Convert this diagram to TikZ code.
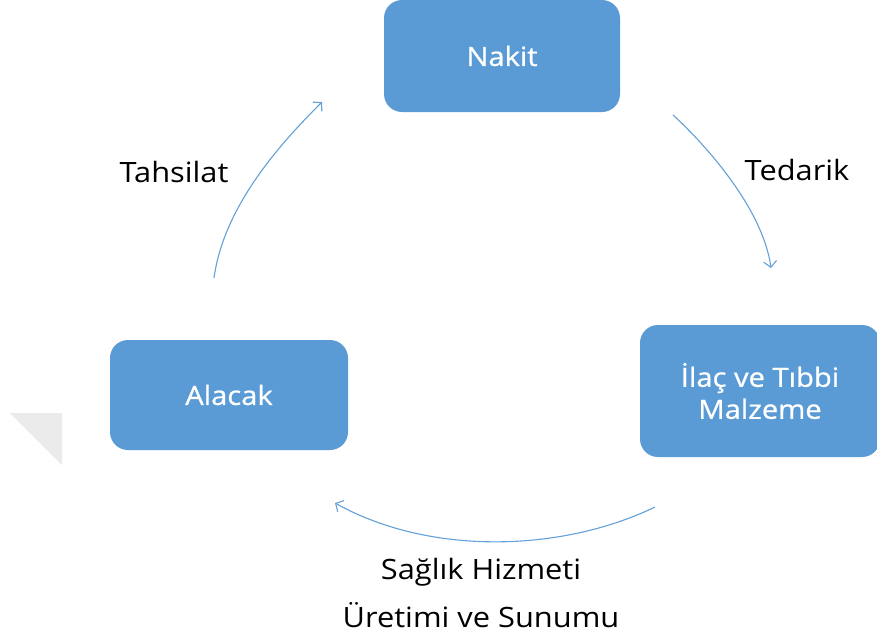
\documentclass[tikz,border=0pt]{standalone}
\usepackage{fontspec}
\setmainfont{Open Sans}
\newfontfamily\widefont[FakeStretch=1.1]{Open Sans}
\newfontfamily\boxfont[FakeStretch=1.1,FakeBold=0.8]{Open Sans}
\usetikzlibrary{arrows.meta}
\definecolor{boxblue}{HTML}{5B9BD5}
\definecolor{arrowblue}{HTML}{64A1D8}
\definecolor{shadowgray}{HTML}{EBEBEB}
\tikzset{
  cyclebox/.style={fill=boxblue, draw=none, rounded corners=18pt, text=white,
    font=\boxfont\fontsize{26.5}{32}\selectfont, align=center, inner sep=0pt},
  cyclearrow/.style={draw=arrowblue, line width=1.1pt,
    -{Straight Barb[length=6pt,width=13pt,line width=1.1pt]}},
  cyclelabel/.style={font=\widefont\fontsize{28}{34}\selectfont, text=black, align=center}
}
\begin{document}
\begin{tikzpicture}[x=1pt,y=-1pt]
\useasboundingbox (0,0) rectangle (877,638);
\fill[white] (0,0) rectangle (877,638);
% gray triangle
\fill[shadowgray] (10,413) -- (62,413) -- (62,465) -- cycle;
% boxes
\node[cyclebox, minimum width=236pt, minimum height=112pt] (nakit) at (502,56) {Nakit};
\node[cyclebox, minimum width=240pt, minimum height=132pt] (ilac) at (760,391) {İlaç ve Tıbbi\\Malzeme};
\node[cyclebox, minimum width=238pt, minimum height=110pt] (alacak) at (229,395) {Alacak};
% arrow ends
\coordinate (tA) at (214,278);
\coordinate (tB) at (322,102);
\coordinate (dA) at (673,115);
\coordinate (dB) at (771,268);
\coordinate (sA) at (655,507);
\coordinate (sB) at (335,503);
\draw[cyclearrow] (tA) .. controls (224,205) and (282,142) .. (tB);
\draw[cyclearrow] (dA) .. controls (708,147) and (763,210) .. (dB);
\draw[cyclearrow] (sA) .. controls (562,552) and (430,556) .. (sB);
% labels
\node[cyclelabel] (tahsilat) at (174,172) {Tahsilat};
\node[cyclelabel] (tedarik) at (797,170) {Tedarik};
\node[cyclelabel] (saglik1) at (481,572) {Sağlık Hizmeti};
\node[cyclelabel] (saglik2) at (481,615) {Üretimi ve Sunumu};
\end{tikzpicture}
\end{document}
